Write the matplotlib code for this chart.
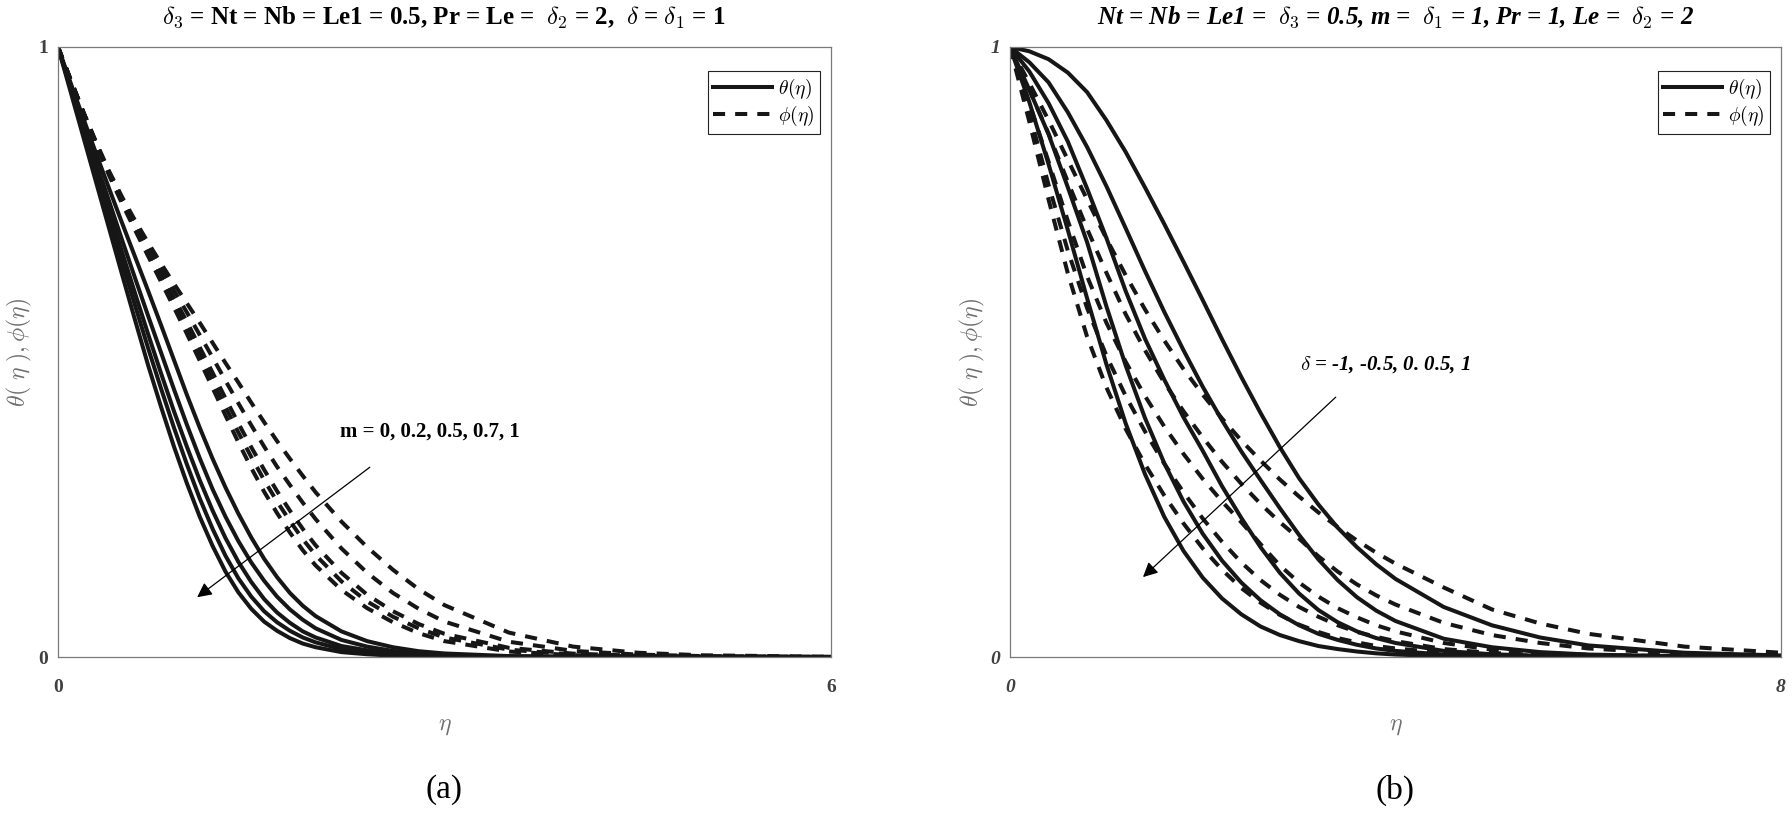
import matplotlib
matplotlib.use('Agg')
import matplotlib.pyplot as plt

plt.rcParams['font.family'] = ['Liberation Serif', 'DejaVu Serif']
plt.rcParams['mathtext.fontset'] = 'cm'

# panel (a): effect of m
eta_a = [0, 0.1, 0.2, 0.3, 0.4, 0.5, 0.6, 0.7, 0.8, 0.9, 1.0, 1.1, 1.2, 1.3, 1.4, 1.5,
         1.6, 1.7, 1.8, 1.9, 2.0, 2.2, 2.4, 2.6, 2.8, 3.0, 3.5, 4.0, 4.5, 5.0, 6.0]
m_vals = [0, 0.2, 0.5, 0.7, 1]
theta_a = [
    [1, .940, .881, .823, .766, .710, .655, .600, .544, .487, .430, .376, .325, .278, .235, .196,
     .161, .131, .105, .084, .067, .042, .026, .016, .0095, .0058, .0015, .0003, .0001, 0, 0],
    [1, .936, .872, .808, .745, .682, .620, .559, .499, .439, .381, .326, .275, .230, .190, .155,
     .125, .099, .078, .061, .047, .028, .017, .010, .0055, .003, .0008, .0002, 0, 0, 0],
    [1, .933, .866, .798, .730, .662, .595, .529, .465, .403, .345, .290, .240, .195, .156, .123,
     .095, .073, .056, .042, .032, .018, .011, .006, .0033, .0018, .0004, .0001, 0, 0, 0],
    [1, .930, .860, .788, .716, .645, .575, .506, .440, .376, .316, .260, .210, .166, .129, .099,
     .075, .057, .043, .032, .024, .013, .0075, .004, .002, .001, .0002, 0, 0, 0, 0],
    [1, .925, .850, .775, .700, .625, .551, .478, .410, .345, .285, .230, .182, .140, .106, .079,
     .058, .043, .031, .022, .016, .008, .0045, .0022, .0011, .0005, .0001, 0, 0, 0, 0],
]
phi_a = [
    [1, .945, .892, .842, .795, .753, .715, .679, .645, .612, .580, .548, .515, .482, .450, .417,
     .385, .354, .325, .297, .270, .222, .180, .143, .111, .085, .040, .017, .007, .0028, .0004],
    [1, .945, .891, .840, .792, .749, .710, .673, .637, .601, .565, .528, .491, .453, .416, .380,
     .345, .312, .282, .253, .226, .178, .138, .105, .079, .058, .025, .010, .004, .0015, .0002],
    [1, .945, .891, .840, .791, .747, .706, .667, .628, .589, .550, .508, .466, .424, .383, .344,
     .307, .272, .240, .210, .183, .138, .102, .075, .054, .038, .015, .0055, .002, .0006, 0],
    [1, .945, .891, .839, .790, .745, .703, .663, .622, .581, .540, .497, .453, .410, .368, .328,
     .290, .255, .223, .193, .167, .124, .091, .066, .047, .032, .012, .004, .0013, .0004, 0],
    [1, .945, .891, .838, .788, .742, .699, .657, .615, .573, .530, .486, .441, .396, .352, .310,
     .271, .236, .204, .175, .150, .110, .080, .057, .039, .026, .009, .003, .001, .0003, 0],
]

# panel (b): effect of delta
eta_b = [0, 0.2, 0.4, 0.6, 0.8, 1.0, 1.2, 1.4, 1.6, 1.8, 2.0, 2.2, 2.4, 2.6, 2.8, 3.0,
         3.2, 3.4, 3.6, 3.8, 4.0, 4.5, 5.0, 5.5, 6.0, 7.0, 8.0]
delta_vals = [-1, -0.5, 0, 0.5, 1]
theta_b = [
    [1, .993, .980, .958, .926, .880, .828, .770, .710, .648, .585, .521, .459, .400, .344, .293,
     .250, .212, .180, .152, .128, .082, .052, .032, .019, .007, .0025],
    [1, .975, .942, .893, .836, .772, .703, .633, .566, .503, .443, .388, .337, .290, .244, .200,
     .160, .126, .098, .076, .059, .030, .016, .008, .004, .0012, .0003],
    [1, .960, .908, .845, .768, .687, .600, .522, .455, .393, .338, .280, .228, .180, .138, .104,
     .077, .057, .042, .031, .023, .010, .0045, .002, .0009, .0002, 0],
    [1, .930, .857, .770, .680, .575, .478, .392, .318, .255, .202, .158, .122, .093, .070, .052,
     .038, .028, .020, .014, .010, .004, .0016, .0006, .0002, 0, 0],
    [1, .910, .808, .700, .588, .480, .383, .300, .230, .174, .130, .096, .070, .050, .036, .026,
     .018, .013, .009, .006, .004, .0015, .0005, .0002, 0, 0, 0],
]
phi_b = [
    [1, .941, .880, .815, .750, .686, .626, .570, .519, .472, .430, .391, .355, .322, .291, .263,
     .237, .213, .191, .171, .153, .114, .078, .055, .038, .017, .007],
    [1, .930, .858, .779, .702, .630, .562, .503, .450, .403, .360, .320, .284, .251, .221, .194,
     .165, .140, .119, .101, .086, .056, .036, .023, .014, .005, .0018],
    [1, .908, .812, .715, .624, .548, .484, .428, .378, .333, .292, .255, .221, .185, .150, .122,
     .099, .080, .065, .052, .042, .023, .012, .0065, .0035, .001, .0003],
    [1, .892, .774, .666, .572, .494, .428, .370, .317, .270, .227, .189, .155, .126, .102, .082,
     .066, .052, .041, .033, .026, .013, .0065, .0032, .0016, .0004, .0001],
    [1, .878, .750, .629, .525, .442, .374, .316, .265, .219, .178, .143, .113, .089, .069, .053,
     .041, .031, .024, .018, .014, .007, .0035, .0017, .0008, .0002, 0],
]

LINE = '#161616'
GRAY = '#6e6e6e'
LW = 2.9
DASH = (0, (3.0, 2.5))

fig = plt.figure(figsize=(17.92, 8.13), dpi=100)
ax_a = fig.add_axes([58 / 1792, 156 / 813, 773 / 1792, 610 / 813])
ax_b = fig.add_axes([1010 / 1792, 156 / 813, 771 / 1792, 610 / 813])


def style_axes(ax, xmax, style, ylab_x):
    ax.set_xlim(0, xmax)
    ax.set_ylim(0, 1)
    ax.set_xticks([0, xmax])
    ax.set_yticks([0, 1])
    ax.set_xticklabels(['0', str(xmax)])
    ax.set_yticklabels(['0', '1'])
    for sp in ax.spines.values():
        sp.set_color('#7a7a7a')
        sp.set_linewidth(0.9)
    ax.tick_params(axis='x', length=0, pad=16, labelsize=14, labelcolor='#404040')
    ax.tick_params(axis='y', length=0, pad=7, labelsize=14, labelcolor='#404040')
    for lab in ax.get_xticklabels() + ax.get_yticklabels():
        lab.set_fontweight('bold')
        lab.set_fontstyle(style)
    ax.set_xlabel(r'$\eta$', fontsize=17, color=GRAY)
    ax.xaxis.set_label_coords(0.5, -0.097)
    ax.set_ylabel(r'$\theta(\ \eta\ ), \phi(\eta)$', fontsize=17, color=GRAY, va='center')
    ax.yaxis.set_label_coords(ylab_x, 0.5)


# (a)
for i, m in enumerate(m_vals):
    ax_a.plot(eta_a, theta_a[i], color=LINE, lw=LW,
              label=r'$\theta(\eta)$' if i == 0 else None)
for i, m in enumerate(m_vals):
    ax_a.plot(eta_a, phi_a[i], color=LINE, lw=LW, linestyle=DASH, dash_capstyle='butt',
              label=r'$\phi(\eta)$' if i == 0 else None)
style_axes(ax_a, 6, 'normal', -0.050)
ax_a.annotate('', xy=(1.08, 0.098), xytext=(2.42, 0.311),
              arrowprops=dict(arrowstyle='-|>', color='k', lw=0.9, mutation_scale=22, shrinkA=0, shrinkB=0))
ax_a.text(2.19, 0.37, 'm = 0, 0.2, 0.5, 0.7, 1', fontsize=15, fontweight='bold', va='center', ha='left')

# (b)
for i, d in enumerate(delta_vals):
    ax_b.plot(eta_b, theta_b[i], color=LINE, lw=LW,
              label=r'$\theta(\eta)$' if i == 0 else None)
for i, d in enumerate(delta_vals):
    ax_b.plot(eta_b, phi_b[i], color=LINE, lw=LW, linestyle=DASH, dash_capstyle='butt',
              label=r'$\phi(\eta)$' if i == 0 else None)
style_axes(ax_b, 8, 'italic', -0.049)
ax_b.annotate('', xy=(1.38, 0.131), xytext=(3.38, 0.426),
              arrowprops=dict(arrowstyle='-|>', color='k', lw=0.9, mutation_scale=22, shrinkA=0, shrinkB=0))
ax_b.text(3.01, 0.479, r'$\delta$ = -1, -0.5, 0. 0.5, 1', fontsize=15, fontweight='bold',
          fontstyle='italic', va='center', ha='left')

for ax, w in ((ax_a, 773), (ax_b, 771)):
    leg = ax.legend(loc='upper right', bbox_to_anchor=(1 - 11 / w, 1 - 24 / 610),
                    borderaxespad=0, fancybox=False, framealpha=1, edgecolor='#222222',
                    fontsize=14, handlelength=3.0, handletextpad=0.3, borderpad=0.3,
                    labelspacing=0.15)
    leg.get_frame().set_linewidth(0.8)

# titles
fig.text(444 / 1792, 1 - 24 / 813,
         r'$\delta_{\mathbf{3}}$ = Nt = Nb = Le1 = 0.5, Pr = Le =  $\delta_{\mathbf{2}}$ = 2,  $\delta$ = $\delta_{\mathbf{1}}$ = 1',
         fontsize=18, fontweight='bold', ha='center', va='baseline')
fig.text(1395 / 1792, 1 - 24 / 813,
         r'Nt = Nb = Le1 =  $\delta_{\mathbf{3}}$ = 0.5, m =  $\delta_{\mathbf{1}}$ = 1, Pr = 1, Le =  $\delta_{\mathbf{2}}$ = 2',
         fontsize=18, fontweight='bold', fontstyle='italic', ha='center', va='baseline')

fig.text(444 / 1792, 1 - 790 / 813, '(a)', fontsize=24, ha='center', va='center')
fig.text(1395 / 1792, 1 - 790 / 813, '(b)', fontsize=24, ha='center', va='center')

fig.savefig('out.png', dpi=100)
